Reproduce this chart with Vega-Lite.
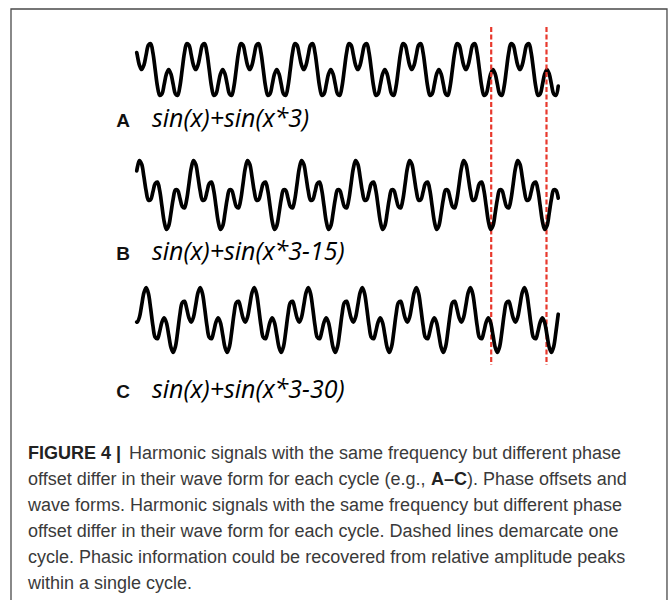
{
"$schema": "https://vega.github.io/schema/vega-lite/v6.json",
"width": 670, "height": 600,
"autosize": {"type": "fit", "contains": "padding"},
"padding": 0,
"background": "white",
"config": {"view": {"stroke": null}},
"datasets": {
"waves": [
{"x":1,"A":0.983,"B":1.378,"C":-0.115},
{"x":1.047,"A":0.866,"B":1.516,"C":-0.122},
{"x":1.309,"A":0.259,"B":1.963,"C":0.158},
{"x":1.571,"A":0,"B":1.76,"C":0.846},
{"x":1.833,"A":0.259,"B":1.043,"C":1.556},
{"x":2.094,"A":0.866,"B":0.216,"C":1.854},
{"x":2.356,"A":1.414,"B":-0.29,"C":1.515},
{"x":2.618,"A":1.5,"B":-0.26,"C":0.654},
{"x":2.88,"A":0.966,"B":0.181,"C":-0.331},
{"x":3.142,"A":0,"B":0.65,"C":-0.988},
{"x":3.403,"A":-0.966,"B":0.738,"C":-1.067},
{"x":3.665,"A":-1.5,"B":0.26,"C":-0.654},
{"x":3.927,"A":-1.414,"B":-0.63,"C":-0.118},
{"x":4.189,"A":-0.866,"B":-1.516,"C":0.122},
{"x":4.451,"A":-0.259,"B":-1.963,"C":-0.158},
{"x":4.712,"A":0,"B":-1.76,"C":-0.846},
{"x":4.974,"A":-0.259,"B":-1.043,"C":-1.556},
{"x":5.236,"A":-0.866,"B":-0.216,"C":-1.854},
{"x":5.498,"A":-1.414,"B":0.29,"C":-1.515},
{"x":5.76,"A":-1.5,"B":0.26,"C":-0.654},
{"x":6.021,"A":-0.966,"B":-0.181,"C":0.331},
{"x":6.283,"A":0,"B":-0.65,"C":0.988},
{"x":6.545,"A":0.966,"B":-0.738,"C":1.067},
{"x":6.807,"A":1.5,"B":-0.26,"C":0.654},
{"x":7.069,"A":1.414,"B":0.63,"C":0.118},
{"x":7.33,"A":0.866,"B":1.516,"C":-0.122},
{"x":7.592,"A":0.259,"B":1.963,"C":0.158},
{"x":7.854,"A":0,"B":1.76,"C":0.846},
{"x":8.116,"A":0.259,"B":1.043,"C":1.556},
{"x":8.378,"A":0.866,"B":0.216,"C":1.854},
{"x":8.639,"A":1.414,"B":-0.29,"C":1.515},
{"x":8.901,"A":1.5,"B":-0.26,"C":0.654},
{"x":9.163,"A":0.966,"B":0.181,"C":-0.331},
{"x":9.425,"A":0,"B":0.65,"C":-0.988},
{"x":9.687,"A":-0.966,"B":0.738,"C":-1.067},
{"x":9.948,"A":-1.5,"B":0.26,"C":-0.654},
{"x":10.21,"A":-1.414,"B":-0.63,"C":-0.118},
{"x":10.472,"A":-0.866,"B":-1.516,"C":0.122},
{"x":10.734,"A":-0.259,"B":-1.963,"C":-0.158},
{"x":10.996,"A":0,"B":-1.76,"C":-0.846},
{"x":11.257,"A":-0.259,"B":-1.043,"C":-1.556},
{"x":11.519,"A":-0.866,"B":-0.216,"C":-1.854},
{"x":11.781,"A":-1.414,"B":0.29,"C":-1.515},
{"x":12.043,"A":-1.5,"B":0.26,"C":-0.654},
{"x":12.305,"A":-0.966,"B":-0.181,"C":0.331},
{"x":12.566,"A":0,"B":-0.65,"C":0.988},
{"x":12.828,"A":0.966,"B":-0.738,"C":1.067},
{"x":13.09,"A":1.5,"B":-0.26,"C":0.654},
{"x":13.352,"A":1.414,"B":0.63,"C":0.118},
{"x":13.614,"A":0.866,"B":1.516,"C":-0.122},
{"x":13.875,"A":0.259,"B":1.963,"C":0.158},
{"x":14.137,"A":0,"B":1.76,"C":0.846},
{"x":14.399,"A":0.259,"B":1.043,"C":1.556},
{"x":14.661,"A":0.866,"B":0.216,"C":1.854},
{"x":14.923,"A":1.414,"B":-0.29,"C":1.515},
{"x":15.184,"A":1.5,"B":-0.26,"C":0.654},
{"x":15.446,"A":0.966,"B":0.181,"C":-0.331},
{"x":15.708,"A":0,"B":0.65,"C":-0.988},
{"x":15.97,"A":-0.966,"B":0.738,"C":-1.067},
{"x":16.232,"A":-1.5,"B":0.26,"C":-0.654},
{"x":16.493,"A":-1.414,"B":-0.63,"C":-0.118},
{"x":16.755,"A":-0.866,"B":-1.516,"C":0.122},
{"x":17.017,"A":-0.259,"B":-1.963,"C":-0.158},
{"x":17.279,"A":0,"B":-1.76,"C":-0.846},
{"x":17.541,"A":-0.259,"B":-1.043,"C":-1.556},
{"x":17.802,"A":-0.866,"B":-0.216,"C":-1.854},
{"x":18.064,"A":-1.414,"B":0.29,"C":-1.515},
{"x":18.326,"A":-1.5,"B":0.26,"C":-0.654},
{"x":18.588,"A":-0.966,"B":-0.181,"C":0.331},
{"x":18.85,"A":0,"B":-0.65,"C":0.988},
{"x":19.111,"A":0.966,"B":-0.738,"C":1.067},
{"x":19.373,"A":1.5,"B":-0.26,"C":0.654},
{"x":19.635,"A":1.414,"B":0.63,"C":0.118},
{"x":19.897,"A":0.866,"B":1.516,"C":-0.122},
{"x":20.159,"A":0.259,"B":1.963,"C":0.158},
{"x":20.42,"A":0,"B":1.76,"C":0.846},
{"x":20.682,"A":0.259,"B":1.043,"C":1.556},
{"x":20.944,"A":0.866,"B":0.216,"C":1.854},
{"x":21.206,"A":1.414,"B":-0.29,"C":1.515},
{"x":21.468,"A":1.5,"B":-0.26,"C":0.654},
{"x":21.729,"A":0.966,"B":0.181,"C":-0.331},
{"x":21.991,"A":0,"B":0.65,"C":-0.988},
{"x":22.253,"A":-0.966,"B":0.738,"C":-1.067},
{"x":22.515,"A":-1.5,"B":0.26,"C":-0.654},
{"x":22.777,"A":-1.414,"B":-0.63,"C":-0.118},
{"x":23.038,"A":-0.866,"B":-1.516,"C":0.122},
{"x":23.3,"A":-0.259,"B":-1.963,"C":-0.158},
{"x":23.562,"A":0,"B":-1.76,"C":-0.846},
{"x":23.824,"A":-0.259,"B":-1.043,"C":-1.556},
{"x":24.086,"A":-0.866,"B":-0.216,"C":-1.854},
{"x":24.347,"A":-1.414,"B":0.29,"C":-1.515},
{"x":24.609,"A":-1.5,"B":0.26,"C":-0.654},
{"x":24.871,"A":-0.966,"B":-0.181,"C":0.331},
{"x":25.133,"A":0,"B":-0.65,"C":0.988},
{"x":25.395,"A":0.966,"B":-0.738,"C":1.067},
{"x":25.656,"A":1.5,"B":-0.26,"C":0.654},
{"x":25.918,"A":1.414,"B":0.63,"C":0.118},
{"x":26.18,"A":0.866,"B":1.516,"C":-0.122},
{"x":26.442,"A":0.259,"B":1.963,"C":0.158},
{"x":26.704,"A":0,"B":1.76,"C":0.846},
{"x":26.965,"A":0.259,"B":1.043,"C":1.556},
{"x":27.227,"A":0.866,"B":0.216,"C":1.854},
{"x":27.489,"A":1.414,"B":-0.29,"C":1.515},
{"x":27.751,"A":1.5,"B":-0.26,"C":0.654},
{"x":28.013,"A":0.966,"B":0.181,"C":-0.331},
{"x":28.274,"A":0,"B":0.65,"C":-0.988},
{"x":28.536,"A":-0.966,"B":0.738,"C":-1.067},
{"x":28.798,"A":-1.5,"B":0.26,"C":-0.654},
{"x":29.06,"A":-1.414,"B":-0.63,"C":-0.118},
{"x":29.322,"A":-0.866,"B":-1.516,"C":0.122},
{"x":29.583,"A":-0.259,"B":-1.963,"C":-0.158},
{"x":29.845,"A":0,"B":-1.76,"C":-0.846},
{"x":30.107,"A":-0.259,"B":-1.043,"C":-1.556},
{"x":30.369,"A":-0.866,"B":-0.216,"C":-1.854},
{"x":30.631,"A":-1.414,"B":0.29,"C":-1.515},
{"x":30.892,"A":-1.5,"B":0.26,"C":-0.654},
{"x":31.154,"A":-0.966,"B":-0.181,"C":0.331},
{"x":31.416,"A":0,"B":-0.65,"C":0.988},
{"x":31.678,"A":0.966,"B":-0.738,"C":1.067},
{"x":31.94,"A":1.5,"B":-0.26,"C":0.654},
{"x":32.201,"A":1.414,"B":0.63,"C":0.118},
{"x":32.463,"A":0.866,"B":1.516,"C":-0.122},
{"x":32.725,"A":0.259,"B":1.963,"C":0.158},
{"x":32.987,"A":0,"B":1.76,"C":0.846},
{"x":33.249,"A":0.259,"B":1.043,"C":1.556},
{"x":33.51,"A":0.866,"B":0.216,"C":1.854},
{"x":33.772,"A":1.414,"B":-0.29,"C":1.515},
{"x":34.034,"A":1.5,"B":-0.26,"C":0.654},
{"x":34.296,"A":0.966,"B":0.181,"C":-0.331},
{"x":34.558,"A":0,"B":0.65,"C":-0.988},
{"x":34.819,"A":-0.966,"B":0.738,"C":-1.067},
{"x":35.081,"A":-1.5,"B":0.26,"C":-0.654},
{"x":35.343,"A":-1.414,"B":-0.63,"C":-0.118},
{"x":35.605,"A":-0.866,"B":-1.516,"C":0.122},
{"x":35.867,"A":-0.259,"B":-1.963,"C":-0.158},
{"x":36.128,"A":0,"B":-1.76,"C":-0.846},
{"x":36.39,"A":-0.259,"B":-1.043,"C":-1.556},
{"x":36.652,"A":-0.866,"B":-0.216,"C":-1.854},
{"x":36.914,"A":-1.414,"B":0.29,"C":-1.515},
{"x":37.176,"A":-1.5,"B":0.26,"C":-0.654},
{"x":37.437,"A":-0.966,"B":-0.181,"C":0.331},
{"x":37.699,"A":0,"B":-0.65,"C":0.988},
{"x":37.961,"A":0.966,"B":-0.738,"C":1.067},
{"x":38.223,"A":1.5,"B":-0.26,"C":0.654},
{"x":38.485,"A":1.414,"B":0.63,"C":0.118},
{"x":38.746,"A":0.866,"B":1.516,"C":-0.122},
{"x":39.008,"A":0.259,"B":1.963,"C":0.158},
{"x":39.27,"A":0,"B":1.76,"C":0.846},
{"x":39.532,"A":0.259,"B":1.043,"C":1.556},
{"x":39.794,"A":0.866,"B":0.216,"C":1.854},
{"x":40.055,"A":1.414,"B":-0.29,"C":1.515},
{"x":40.317,"A":1.5,"B":-0.26,"C":0.654},
{"x":40.579,"A":0.966,"B":0.181,"C":-0.331},
{"x":40.841,"A":0,"B":0.65,"C":-0.988},
{"x":41.103,"A":-0.966,"B":0.738,"C":-1.067},
{"x":41.364,"A":-1.5,"B":0.26,"C":-0.654},
{"x":41.626,"A":-1.414,"B":-0.63,"C":-0.118},
{"x":41.888,"A":-0.866,"B":-1.516,"C":0.122},
{"x":42.15,"A":-0.259,"B":-1.963,"C":-0.158},
{"x":42.412,"A":0,"B":-1.76,"C":-0.846},
{"x":42.673,"A":-0.259,"B":-1.043,"C":-1.556},
{"x":42.935,"A":-0.866,"B":-0.216,"C":-1.854},
{"x":43.197,"A":-1.414,"B":0.29,"C":-1.515},
{"x":43.459,"A":-1.5,"B":0.26,"C":-0.654},
{"x":43.721,"A":-0.966,"B":-0.181,"C":0.331},
{"x":43.982,"A":0,"B":-0.65,"C":0.988},
{"x":44.244,"A":0.966,"B":-0.738,"C":1.067},
{"x":44.506,"A":1.5,"B":-0.26,"C":0.654},
{"x":44.768,"A":1.414,"B":0.63,"C":0.118},
{"x":45.029,"A":0.866,"B":1.516,"C":-0.122},
{"x":45.291,"A":0.259,"B":1.963,"C":0.158},
{"x":45.553,"A":0,"B":1.76,"C":0.846},
{"x":45.815,"A":0.259,"B":1.043,"C":1.556},
{"x":46.077,"A":0.866,"B":0.216,"C":1.854},
{"x":46.338,"A":1.414,"B":-0.29,"C":1.515},
{"x":46.6,"A":1.5,"B":-0.26,"C":0.654},
{"x":46.862,"A":0.966,"B":0.181,"C":-0.331},
{"x":47.124,"A":0,"B":0.65,"C":-0.988},
{"x":47.386,"A":-0.966,"B":0.738,"C":-1.067},
{"x":47.647,"A":-1.5,"B":0.26,"C":-0.654},
{"x":47.909,"A":-1.414,"B":-0.63,"C":-0.118},
{"x":48.171,"A":-0.866,"B":-1.516,"C":0.122},
{"x":48.433,"A":-0.259,"B":-1.963,"C":-0.158},
{"x":48.695,"A":0,"B":-1.76,"C":-0.846},
{"x":48.956,"A":-0.259,"B":-1.043,"C":-1.556},
{"x":49.218,"A":-0.866,"B":-0.216,"C":-1.854},
{"x":49.48,"A":-1.414,"B":0.29,"C":-1.515},
{"x":49.742,"A":-1.5,"B":0.26,"C":-0.654},
{"x":50.004,"A":-0.966,"B":-0.181,"C":0.331}
],
"labels": [
{"panel":"A","letter":"A","formula":"sin(x)+sin(x*3)"},
{"panel":"B","letter":"B","formula":"sin(x)+sin(x*3-15)"},
{"panel":"C","letter":"C","formula":"sin(x)+sin(x*3-30)"}
],
"cycle": [{"t":42.21},{"t":48.64}],
"caption": [
{"line":1,"part":"b1","text":"FIGURE 4 |"},
{"line":1,"part":"r1","text":"Harmonic signals with the same frequency but different phase"},
{"line":2,"part":"left","text":"offset differ in their wave form for each cycle (e.g.,"},
{"line":2,"part":"b2","text":"A–C"},
{"line":2,"part":"r2","text":"). Phase offsets and"},
{"line":3,"part":"left","text":"wave forms. Harmonic signals with the same frequency but different phase"},
{"line":4,"part":"left","text":"offset differ in their wave form for each cycle. Dashed lines demarcate one"},
{"line":5,"part":"left","text":"cycle. Phasic information could be recovered from relative amplitude peaks"},
{"line":6,"part":"left","text":"within a single cycle."}
],
"frame": [{"box":"figure"}]
},
"layer": [
{"layer": [
 {"data": {"name": "waves"},
  "mark": {"type": "line", "color": "#000000", "strokeWidth": 3.7, "interpolate": "catmull-rom", "strokeCap": "round", "strokeJoin": "round"},
  "encoding": {
   "x": {"field": "x", "type": "quantitative", "scale": {"domain": [-14.9, 63.0], "nice": false, "zero": false}, "axis": null},
   "y": {"field": "A", "type": "quantitative", "scale": {"domain": [-30.843, 4.041], "nice": false, "zero": false}, "axis": null}}},
 {"data": {"name": "cycle"},
  "mark": {"type": "rule", "color": "#e8392d", "strokeWidth": 2.2, "strokeDash": [5, 2.5]},
  "encoding": {
   "x": {"field": "t", "type": "quantitative", "scale": {"domain": [-14.9, 63.0], "nice": false, "zero": false}, "axis": null},
   "y": {"datum": 2.471, "type": "quantitative", "scale": {"domain": [-30.843, 4.041], "nice": false, "zero": false}, "axis": null},
   "y2": {"datum": -17.18}}},
 {"data": {"name": "labels"}, "transform": [{"filter": "datum.panel === 'A'"}],
  "mark": {"type": "text", "font": "Liberation Sans", "fontWeight": "bold", "fontSize": 19, "align": "center", "baseline": "alphabetic", "color": "#111111"},
  "encoding": {"text": {"field": "letter"},
   "x": {"datum": -0.6, "type": "quantitative", "scale": {"domain": [-14.9, 63.0], "nice": false, "zero": false}, "axis": null},
   "y": {"datum": -3.343, "type": "quantitative", "scale": {"domain": [-30.843, 4.041], "nice": false, "zero": false}, "axis": null}}},
 {"data": {"name": "labels"}, "transform": [{"filter": "datum.panel === 'A'"}],
  "mark": {"type": "text", "font": "Open Sans", "fontStyle": "italic", "fontSize": 25, "align": "left", "baseline": "alphabetic", "color": "#000000"},
  "encoding": {"text": {"field": "formula"},
   "x": {"datum": 2.772, "type": "quantitative", "scale": {"domain": [-14.9, 63.0], "nice": false, "zero": false}, "axis": null},
   "y": {"datum": -3.343, "type": "quantitative", "scale": {"domain": [-30.843, 4.041], "nice": false, "zero": false}, "axis": null}}}
]},
{"layer": [
 {"data": {"name": "waves"},
  "mark": {"type": "line", "color": "#000000", "strokeWidth": 3.7, "interpolate": "catmull-rom", "strokeCap": "round", "strokeJoin": "round"},
  "encoding": {
   "x": {"field": "x", "type": "quantitative", "scale": {"domain": [-14.9, 63.0], "nice": false, "zero": false}, "axis": null},
   "y": {"field": "B", "type": "quantitative", "scale": {"domain": [-23.143, 11.143], "nice": false, "zero": false}, "axis": null}}},
 {"data": {"name": "labels"}, "transform": [{"filter": "datum.panel === 'B'"}],
  "mark": {"type": "text", "font": "Liberation Sans", "fontWeight": "bold", "fontSize": 19, "align": "center", "baseline": "alphabetic", "color": "#111111"},
  "encoding": {"text": {"field": "letter"},
   "x": {"datum": -0.6, "type": "quantitative", "scale": {"domain": [-14.9, 63.0], "nice": false, "zero": false}, "axis": null},
   "y": {"datum": -3.714, "type": "quantitative", "scale": {"domain": [-23.143, 11.143], "nice": false, "zero": false}, "axis": null}}},
 {"data": {"name": "labels"}, "transform": [{"filter": "datum.panel === 'B'"}],
  "mark": {"type": "text", "font": "Open Sans", "fontStyle": "italic", "fontSize": 25, "align": "left", "baseline": "alphabetic", "color": "#000000"},
  "encoding": {"text": {"field": "formula"},
   "x": {"datum": 2.772, "type": "quantitative", "scale": {"domain": [-14.9, 63.0], "nice": false, "zero": false}, "axis": null},
   "y": {"datum": -3.714, "type": "quantitative", "scale": {"domain": [-23.143, 11.143], "nice": false, "zero": false}, "axis": null}}}
]},
{"layer": [
 {"data": {"name": "waves"},
  "mark": {"type": "line", "color": "#000000", "strokeWidth": 3.7, "interpolate": "catmull-rom", "strokeCap": "round", "strokeJoin": "round"},
  "encoding": {
   "x": {"field": "x", "type": "quantitative", "scale": {"domain": [-14.9, 63.0], "nice": false, "zero": false}, "axis": null},
   "y": {"field": "C", "type": "quantitative", "scale": {"domain": [-16.0, 18.286], "nice": false, "zero": false}, "axis": null}}},
 {"data": {"name": "labels"}, "transform": [{"filter": "datum.panel === 'C'"}],
  "mark": {"type": "text", "font": "Liberation Sans", "fontWeight": "bold", "fontSize": 19, "align": "center", "baseline": "alphabetic", "color": "#111111"},
  "encoding": {"text": {"field": "letter"},
   "x": {"datum": -0.6, "type": "quantitative", "scale": {"domain": [-14.9, 63.0], "nice": false, "zero": false}, "axis": null},
   "y": {"datum": -4.457, "type": "quantitative", "scale": {"domain": [-16.0, 18.286], "nice": false, "zero": false}, "axis": null}}},
 {"data": {"name": "labels"}, "transform": [{"filter": "datum.panel === 'C'"}],
  "mark": {"type": "text", "font": "Open Sans", "fontStyle": "italic", "fontSize": 25, "align": "left", "baseline": "alphabetic", "color": "#000000"},
  "encoding": {"text": {"field": "formula"},
   "x": {"datum": 2.772, "type": "quantitative", "scale": {"domain": [-14.9, 63.0], "nice": false, "zero": false}, "axis": null},
   "y": {"datum": -4.457, "type": "quantitative", "scale": {"domain": [-16.0, 18.286], "nice": false, "zero": false}, "axis": null}}}
]},
{"layer": [
 {"data": {"name": "frame"},
  "mark": {"type": "rect", "filled": false, "color": "#4a4a4a", "strokeWidth": 1.3, "clip": true},
  "encoding": {
   "x": {"datum": -13.621, "type": "quantitative", "scale": {"domain": [-14.9, 63.0], "nice": false, "zero": false}, "axis": null},
   "x2": {"datum": 62.649},
   "y": {"datum": -16.308, "type": "quantitative", "scale": {"domain": [-16.654, 6.423], "reverse": true, "nice": false, "zero": false}, "axis": null},
   "y2": {"datum": 7.0}}},
 {"data": {"name": "caption"}, "transform": [{"filter": "datum.part === 'left'"}],
  "mark": {"type": "text", "font": "Liberation Sans", "fontSize": 18, "align": "left", "baseline": "alphabetic", "color": "#3a3a3a"},
  "encoding": {"text": {"field": "text"},
   "x": {"datum": -11.645, "type": "quantitative", "scale": {"domain": [-14.9, 63.0], "nice": false, "zero": false}, "axis": null},
   "y": {"field": "line", "type": "quantitative", "scale": {"domain": [-16.654, 6.423], "reverse": true, "nice": false, "zero": false}, "axis": null}}},
 {"data": {"name": "caption"}, "transform": [{"filter": "datum.part === 'b1'"}],
  "mark": {"type": "text", "font": "Liberation Sans", "fontWeight": "bold", "fontSize": 18, "align": "left", "baseline": "alphabetic", "color": "#222222"},
  "encoding": {"text": {"field": "text"},
   "x": {"datum": -11.645, "type": "quantitative", "scale": {"domain": [-14.9, 63.0], "nice": false, "zero": false}, "axis": null},
   "y": {"field": "line", "type": "quantitative", "scale": {"domain": [-16.654, 6.423], "reverse": true, "nice": false, "zero": false}, "axis": null}}},
 {"data": {"name": "caption"}, "transform": [{"filter": "datum.part === 'r1'"}],
  "mark": {"type": "text", "font": "Liberation Sans", "fontSize": 18, "align": "left", "baseline": "alphabetic", "color": "#3a3a3a"},
  "encoding": {"text": {"field": "text"},
   "x": {"datum": 0.098, "type": "quantitative", "scale": {"domain": [-14.9, 63.0], "nice": false, "zero": false}, "axis": null},
   "y": {"field": "line", "type": "quantitative", "scale": {"domain": [-16.654, 6.423], "reverse": true, "nice": false, "zero": false}, "axis": null}}},
 {"data": {"name": "caption"}, "transform": [{"filter": "datum.part === 'b2'"}],
  "mark": {"type": "text", "font": "Liberation Sans", "fontWeight": "bold", "fontSize": 18, "align": "left", "baseline": "alphabetic", "color": "#222222"},
  "encoding": {"text": {"field": "text"},
   "x": {"datum": 35.21, "type": "quantitative", "scale": {"domain": [-14.9, 63.0], "nice": false, "zero": false}, "axis": null},
   "y": {"field": "line", "type": "quantitative", "scale": {"domain": [-16.654, 6.423], "reverse": true, "nice": false, "zero": false}, "axis": null}}},
 {"data": {"name": "caption"}, "transform": [{"filter": "datum.part === 'r2'"}],
  "mark": {"type": "text", "font": "Liberation Sans", "fontSize": 18, "align": "left", "baseline": "alphabetic", "color": "#3a3a3a"},
  "encoding": {"text": {"field": "text"},
   "x": {"datum": 39.396, "type": "quantitative", "scale": {"domain": [-14.9, 63.0], "nice": false, "zero": false}, "axis": null},
   "y": {"field": "line", "type": "quantitative", "scale": {"domain": [-16.654, 6.423], "reverse": true, "nice": false, "zero": false}, "axis": null}}}
]}
],
"resolve": {"scale": {"y": "independent"}}
}
